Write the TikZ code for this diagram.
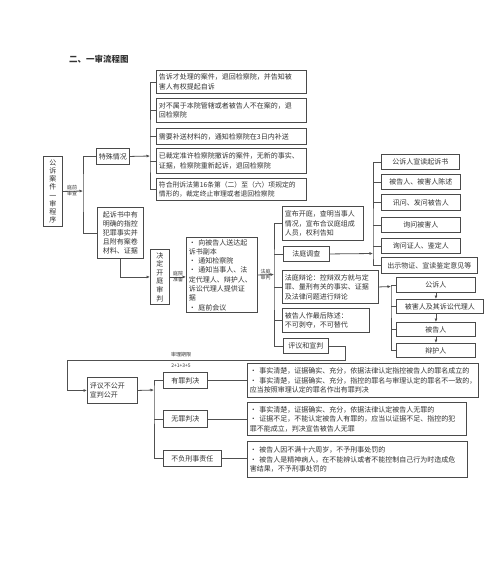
\documentclass[tikz,border=0pt]{standalone}
\usepackage{fontspec}
\setmainfont{Noto Sans CJK SC}
\usetikzlibrary{arrows.meta}
\definecolor{boxc}{HTML}{4A4A4A}
\definecolor{linec}{HTML}{505050}
\definecolor{txt}{HTML}{333333}
\newcommand\bx[7][]{%
 \pgfmathsetmacro\bw{#5-#3}\pgfmathsetmacro\bh{#6-#4}%
 \node[box,minimum width=\bw pt,minimum height=\bh pt,anchor=north west,#1] (#2) at (#3,#4) {#7};}
\newcommand\bxl[7][]{%
 \pgfmathsetmacro\bw{#5-#3}\pgfmathsetmacro\bh{#6-#4}\pgfmathsetmacro\tw{#5-#3-5}%
 \node[box,minimum width=\bw pt,minimum height=\bh pt,text width=\tw pt,anchor=north west,#1] (#2) at (#3,#4) {#7};}
\begin{document}
\begin{tikzpicture}[x=1pt,y=-1pt,
  box/.style={draw=boxc, line width=0.9pt, inner xsep=2.5pt, inner ysep=1pt, align=left, font=\fontsize{7}{9.5}\selectfont, text=txt},
  vbox/.style={align=center, font=\fontsize{7}{8.2}\selectfont},
  ln/.style={draw=linec, line width=0.8pt},
  arr/.style={ln, -{Latex[length=3.5pt,width=3pt]}},
  lbl/.style={font=\fontsize{5}{6}\selectfont, text=txt, align=center, inner sep=0pt}]
\useasboundingbox[fill=white] (0,0) rectangle (500,565);

\node[font=\bfseries\fontsize{8.5}{8.5}\selectfont, text=txt, anchor=west, inner sep=0pt] (title) at (69,59) {二、一审流程图};

% left part
\bx[vbox]{gs}{43}{156}{62}{226}{公\\诉\\案\\件\\一\\审\\程\\序}
\bx[align=center]{tszk}{96}{148}{123}{164}{特殊情况}
\bxl{s1}{156}{70}{306}{93}{告诉才处理的案件，退回检察院，并告知被\\害人有权提起自诉}
\bxl{s2}{156}{98}{306}{122}{对不属于本院管辖或者被告人不在案的，退\\回检察院}
\bxl{s3}{156}{128}{306}{144}{需要补送材料的，通知检察院在3日内补送}
\bxl{s4}{156}{148}{306}{173}{已裁定准许检察院撤诉的案件，无新的事实、\\证据，检察院重新起诉，退回检察院}
\bxl[font=\fontsize{6.8}{9.5}\selectfont]{s5}{156}{178}{306}{200}{符合刑诉法第16条第（二）至（六）项规定的\\情形的，裁定终止审理或者退回检察院}
\bx[align=center,font=\fontsize{7}{9}\selectfont]{qss}{97}{207}{143}{258}{起诉书中有\\明确的指控\\犯罪事实并\\且附有案卷\\材料、证据}
\bx[vbox,font=\fontsize{7}{8.6}\selectfont]{jd}{150}{249}{169}{304}{决\\定\\开\\庭\\审\\判}
\bxl[font=\fontsize{7}{9.3}\selectfont]{zb}{186}{237}{257}{312}{• 向被告人送达起\\诉书副本\\• 通知检察院\\• 通知当事人、法\\定代理人、辩护人、\\诉讼代理人提供证\\据\\• 庭前会议}

% trial
\bxl{xb}{282}{206}{363}{240}{宣布开庭，查明当事人\\情况，宣布合议庭组成\\人员，权利告知}
\bx[align=center]{dc}{283}{246}{329}{261}{法庭调查}
\bxl{bl}{282}{270}{378}{303}{法庭辩论：控辩双方就与定\\罪、量刑有关的事实、证据\\及法律问题进行辩论}
\bxl{zh}{282}{308}{369}{332}{被告人作最后陈述：\\不可剥夺，不可替代}
\bx[align=center]{py}{283}{338}{328}{353}{评议和宣判}

\bx[align=center]{r1}{381}{154}{459}{169}{公诉人宣读起诉书}
\bx[align=center]{r2}{381}{174}{460}{189}{被告人、被害人陈述}
\bx[align=center]{r3}{381}{194}{460}{210}{讯问、发问被告人}
\bx[align=center]{r4}{381}{217}{460}{232}{询问被害人}
\bx[align=center]{r5}{381}{238}{460}{253}{询问证人、鉴定人}
\bx[align=center]{r6}{381}{257}{477}{273}{出示物证、宣读鉴定意见等}

\bx[align=center]{g1}{396}{277}{475}{292}{公诉人}
\bx[align=center]{g2}{396}{299}{483}{313}{被害人及其诉讼代理人}
\bx[align=center]{g3}{396}{322}{475}{336}{被告人}
\bx[align=center]{g4}{396}{343}{475}{357}{辩护人}

% judgement
\bxl{pybgk}{87}{377}{137}{403}{评议不公开\\宣判公开}
\bx[align=center]{yz}{163}{372}{207}{388}{有罪判决}
\bx[align=center]{wz}{163}{410}{207}{427}{无罪判决}
\bx[align=center]{bf}{163}{450}{221}{466}{不负刑事责任}
\bxl{y1}{247}{363}{478}{397}{• 事实清楚，证据确实、充分，依据法律认定指控被告人的罪名成立的\\• 事实清楚，证据确实、充分，指控的罪名与审理认定的罪名不一致的，\\应当按照审理认定的罪名作出有罪判决}
\bxl{w1}{247}{402}{466}{435}{• 事实清楚，证据确实、充分，依据法律认定被告人无罪的\\• 证据不足，不能认定被告人有罪的，应当以证据不足、指控的犯\\罪不能成立，判决宣告被告人无罪}
\bxl{b1}{247}{441}{467}{477}{• 被告人因不满十六周岁，不予刑事处罚的\\• 被告人是精神病人，在不能辨认或者不能控制自己行为时造成危\\害结果，不予刑事处罚的}

% connectors
\coordinate (t1) at (83,191);
\draw[arr] (gs.east) -- (t1);
\draw[ln] (tszk.west) -| (t1) |- (qss.west);
\node[lbl] (l1) at (72,191) {庭前\\审查};

\coordinate (t2) at (150,156);
\draw[arr] (tszk.east) -- (t2);
\draw[ln] (s1.west) -| (t2) |- (s5.west);
\foreach \n in {s2,s3,s4} \draw[ln] (\n.west) -- (\n.west -| t2);

\draw[arr] (qss.south) |- (jd.west);
\draw[arr] (jd.east) -- (jd.east -| zb.west);
\node[lbl] (l2) at (178,276.5) {庭院\\准备};

\coordinate (t3) at (274,274.5);
\draw[arr] (zb.east) -- (t3);
\node[lbl] (l3) at (265.5,274.5) {法庭\\审判};
\draw[ln] (xb.west) -| (t3) |- (py.west);
\foreach \n in {dc,bl,zh} \draw[ln] (\n.west) -- (\n.west -| t3);

\coordinate (t4) at (373,253.5);
\draw[arr] (dc.east) -- (t4);
\draw[ln] (r1.west) -| (t4) |- (r6.west);
\foreach \n in {r2,r3,r4,r5} \draw[ln] (\n.west) -- (\n.west -| t4);

\coordinate (t5) at (391,286.5);
\draw[arr] (bl.east) -- (t5);
\draw[ln] (g1.west) -| (t5) |- (g4.west);
\foreach \n in {g2,g3} \draw[ln] (\n.west) -- (\n.west -| t5);
\draw[arr] (g1.south) -- (g1.south |- g2.north);
\draw[arr] (g1.south |- g2.south) -- (g3.north);
\draw[arr] (g3.south) -- (g4.north);

\coordinate (c1) at (345,360);
\coordinate (c2) at (67,360);
\draw[arr] (py.east) -| (c1) -- (c2) |- (pybgk.west);
\node[lbl] (l4) at (181,354.5) {审理期限};
\node[lbl] (l5) at (181,365.5) {2+1+3+5};

\coordinate (t6) at (154,390);
\draw[arr] (pybgk.east) -- (t6);
\draw[ln] (yz.west) -| (t6) |- (bf.west);
\draw[ln] (wz.west) -- (wz.west -| t6);
\draw[ln] (yz.east) -- (yz.east -| y1.west);
\draw[ln] (wz.east) -- (wz.east -| w1.west);
\draw[ln] (bf.east) -- (bf.east -| b1.west);
\end{tikzpicture}
\end{document}
